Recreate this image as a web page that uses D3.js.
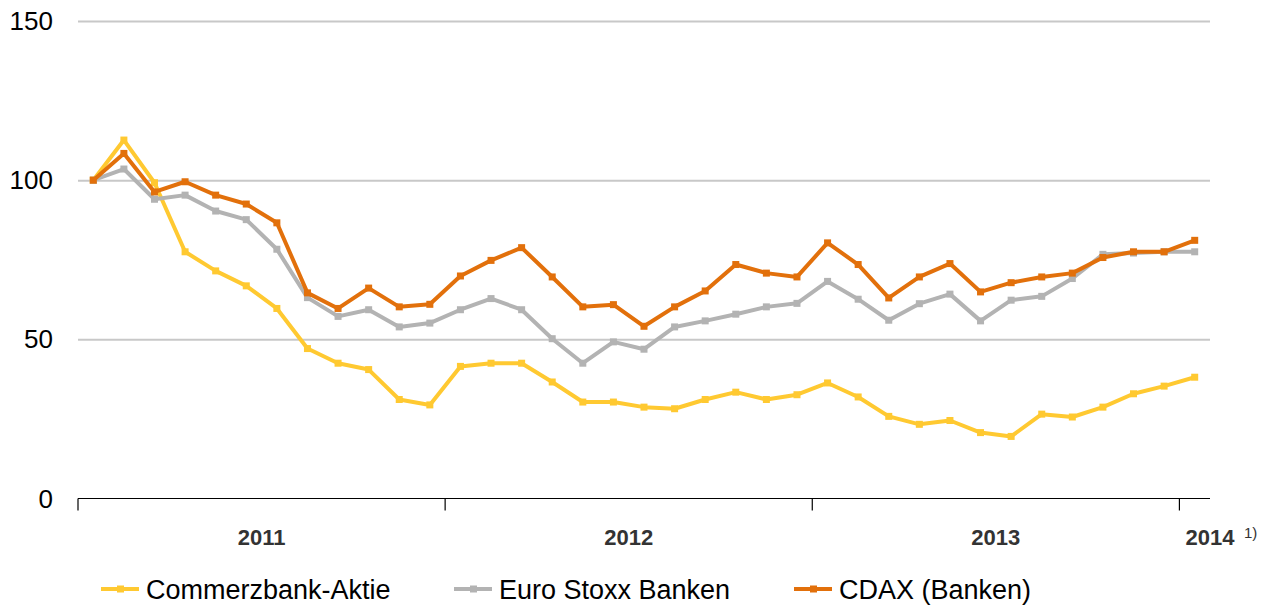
<!DOCTYPE html>
<meta charset="utf-8">
<title>Commerzbank-Aktie vs. Banken-Indizes</title>
<style>
body { margin: 0; background: #fff; }
svg { display: block; }
.ylab { font: 26px "Liberation Sans", Arial, sans-serif; fill: #000; }
.year { font: bold 22px "Liberation Sans", Arial, sans-serif; fill: #333; }
.foot { font: 15px "Liberation Sans", Arial, sans-serif; fill: #333; }
.legend { font: 27px "Liberation Sans", Arial, sans-serif; fill: #000; }
.grid line { stroke: #c8c8c8; stroke-width: 2px; }
.grid .domain { display: none; }
</style>
<body>
<svg width="1271" height="610"></svg>
<script src="https://d3js.org/d3.v7.min.js"></script>
<script>

// months Jan 2011 .. Jan 2014
var months = ["2011-01","2011-02","2011-03","2011-04","2011-05","2011-06","2011-07","2011-08","2011-09","2011-10","2011-11","2011-12",
              "2012-01","2012-02","2012-03","2012-04","2012-05","2012-06","2012-07","2012-08","2012-09","2012-10","2012-11","2012-12",
              "2013-01","2013-02","2013-03","2013-04","2013-05","2013-06","2013-07","2013-08","2013-09","2013-10","2013-11","2013-12",
              "2014-01"];

var years = ["2011", "2012", "2013", "2014"];
var yTicks = [0, 50, 100, 150];

var commerzbank = [100, 112.6, 99.2, 77.5, 71.5, 66.8, 59.7, 47.1, 42.5, 40.5, 31.1, 29.4,
                   41.5, 42.5, 42.5, 36.6, 30.3, 30.3, 28.7, 28.2, 31.1, 33.4, 31.1, 32.6,
                   36.3, 31.9, 25.8, 23.3, 24.5, 20.7, 19.5, 26.5, 25.6, 28.7, 32.9, 35.3,
                   38.1];

var euroStoxx = [100, 103.5, 94.0, 95.3, 90.3, 87.6, 78.3, 63.1, 57.2, 59.3, 53.9, 55.1,
                 59.3, 62.8, 59.3, 50.2, 42.5, 49.2, 46.9, 53.9, 55.8, 57.9, 60.2, 61.3,
                 68.2, 62.6, 56.0, 61.2, 64.2, 55.8, 62.3, 63.5, 69.1, 76.7, 77.1, 77.5,
                 77.5];

var cdax = [100, 108.4, 96.3, 99.5, 95.3, 92.5, 86.6, 64.6, 59.7, 66.1, 60.2, 61.0,
            69.9, 74.8, 78.8, 69.6, 60.2, 60.9, 54.1, 60.2, 65.2, 73.5, 70.8, 69.6,
            80.3, 73.5, 63.0, 69.6, 73.8, 64.9, 67.8, 69.6, 70.8, 75.7, 77.5, 77.5,
            81.1];

var seriesNames = ["Commerzbank-Aktie", "Euro Stoxx Banken", "CDAX (Banken)"];
var seriesColors = ["#ffc931", "#b3b3b3", "#e2700b"];

var series = [commerzbank, euroStoxx, cdax].map(function(v, i) {
  return { name: seriesNames[i], color: seriesColors[i], values: v };
});

var svg = d3.select("svg");

var x = d3.scaleBand()
    .domain(months)
    .range([78, 1210])
    .padding(0);

var y = d3.scaleLinear()
    .domain([0, 150])
    .range([498.5, 21]);

var cx = function(i) { return x(months[i]) + x.bandwidth() / 2; };

// gridlines
svg.append("g")
    .attr("class", "grid")
    .attr("transform", "translate(78,0)")
    .call(d3.axisLeft(y).tickValues(yTicks.slice(1)).tickSize(-(1210 - 78)).tickFormat(""));

// y labels
svg.append("g").selectAll("text")
  .data(yTicks)
  .enter().append("text")
    .attr("class", "ylab")
    .attr("x", 53)
    .attr("y", function(d) { return y(d); })
    .attr("dy", "0.35em")
    .attr("text-anchor", "end")
    .text(function(d) { return d; });

// x axis
var yearStarts = [0, 12, 24, 36];
var xAxis = svg.append("g").attr("transform", "translate(0," + y(0) + ")");
xAxis.append("line")
    .attr("x1", 78).attr("x2", 1210)
    .attr("stroke", "#000").attr("stroke-width", 1.2);
xAxis.selectAll(".tick")
  .data(yearStarts)
  .enter().append("line")
    .attr("x1", function(d) { return x(months[d]); })
    .attr("x2", function(d) { return x(months[d]); })
    .attr("y1", 0).attr("y2", 12)
    .attr("stroke", "#000").attr("stroke-width", 1.2);

xAxis.selectAll(".year")
  .data(years)
  .enter().append("text")
    .attr("class", "year")
    .attr("x", function(d, i) {
      var a = x(months[yearStarts[i]]);
      var b = i < 3 ? x(months[yearStarts[i + 1]]) : a + 2 * x.bandwidth();
      return (a + b) / 2;
    })
    .attr("y", 46)
    .attr("text-anchor", "middle")
    .text(function(d) { return d; });

xAxis.append("text")
    .attr("class", "foot")
    .attr("x", 1244)
    .attr("y", 39)
    .text("1)");

// lines
var line = d3.line()
    .x(function(d, i) { return cx(i); })
    .y(function(d) { return y(d); });

var sg = svg.append("g").selectAll("g")
  .data(series)
  .enter().append("g");

sg.append("path")
    .attr("fill", "none")
    .attr("stroke", function(d) { return d.color; })
    .attr("stroke-width", 4)
    .attr("stroke-linejoin", "round")
    .attr("d", function(d) { return line(d.values); });

sg.selectAll("rect")
  .data(function(d) { return d.values.map(function(v) { return { v: v, c: d.color }; }); })
  .enter().append("rect")
    .attr("x", function(d, i) { return cx(i) - 3.5; })
    .attr("y", function(d) { return y(d.v) - 3.5; })
    .attr("width", 7)
    .attr("height", 7)
    .attr("fill", function(d) { return d.c; });

// legend
var legX = [101, 454, 794];
var lg = svg.append("g").selectAll("g")
  .data(series)
  .enter().append("g")
    .attr("transform", function(d, i) { return "translate(" + legX[i] + ",589)"; });

lg.append("line")
    .attr("x1", 0).attr("x2", 38)
    .attr("stroke", function(d) { return d.color; })
    .attr("stroke-width", 4);
lg.append("rect")
    .attr("x", 16).attr("y", -3.5).attr("width", 7).attr("height", 7)
    .attr("fill", function(d) { return d.color; });
lg.append("text")
    .attr("class", "legend")
    .attr("x", 45)
    .attr("y", 10)
    .text(function(d) { return d.name; });

</script>
</body>
